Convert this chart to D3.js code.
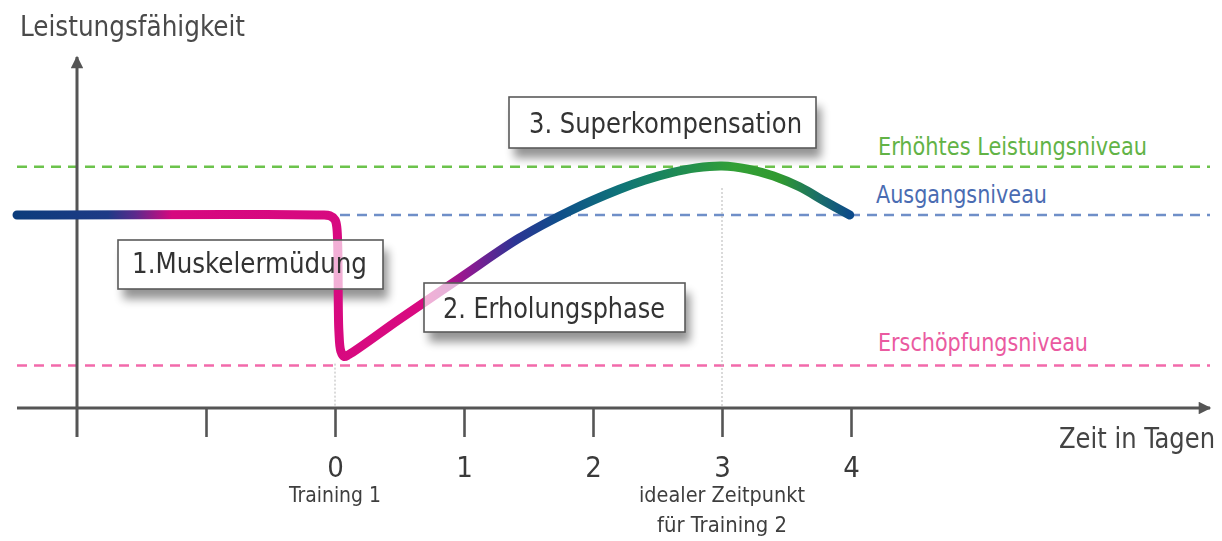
<!DOCTYPE html>
<html>
<head>
<meta charset="utf-8">
<script src="https://cdn.jsdelivr.net/npm/d3@7"></script>
<style>
  html, body { margin: 0; padding: 0; background: #fff; }
  svg { display: block; }
  text { font-family: "Liberation Sans Narrow", "Arial Narrow", "DejaVu Sans Condensed", "Roboto", sans-serif; }
</style>
</head>
<body>
<svg id="chart" width="1222" height="541"></svg>
<script>
// Performance curve (time in days, performance in % of the starting level)
const days = [-2.465, -0.12, -0.04, 0.0, 0.015, 0.03, 0.045, 0.07, 0.11, 0.5, 0.97, 1.43, 1.82, 2.2, 2.4, 2.6, 2.8, 3.0, 3.2, 3.4, 3.6, 3.8, 3.99];
const performance = [100, 100, 99.6, 97.5, 93, 40, 29.5, 26.7, 27.8, 46, 67.4, 88.1, 102.1, 113.2, 118, 121.8, 124.4, 125.4, 123.8, 120.2, 114.6, 107, 100];

// Reference levels
const levelNames = ["Erhöhtes Leistungsniveau", "Ausgangsniveau", "Erschöpfungsniveau"];
const levelValues = [125, 100, 22];
const levelColors = ["#6cc34c", "#6f8fc8", "#f26aab"];
const levelTextColors = ["#62b346", "#4a6cb2", "#ea5aa0"];

// Time axis
const tickDays = [-1, 0, 1, 2, 3, 4];
const tickLabels = ["", "0", "1", "2", "3", "4"];

// Phases
const phaseLabels = ["1.Muskelermüdung", "2. Erholungsphase", "3. Superkompensation"];

// Training markers
const markerDays = [0, 3];
const markerNotes = [["Training 1"], ["idealer Zeitpunkt", "für Training 2"]];

const W = 1222, H = 541;
const svg = d3.select("#chart");
const x = d3.scaleLinear().domain([-2, 4]).range([77, 851]);
const y = d3.scaleLinear().domain([0, 100]).range([408, 215]);
const axisColor = "#555";
const xLeft = 17, xRight = 1210;

const defs = svg.append("defs");

// Colour ramp along the curve
const grad = defs.append("linearGradient")
  .attr("id", "curveGrad").attr("gradientUnits", "userSpaceOnUse")
  .attr("x1", xLeft).attr("x2", x(4)).attr("y1", 0).attr("y2", 0);
const stops = [
  [17, "#0c3c7c"], [108, "#1e3a86"], [135, "#5a2a8c"], [172, "#d6087f"],
  [425, "#d80a80"], [470, "#8a1a92"], [515, "#2c3594"], [560, "#0f4f8a"],
  [620, "#0f7478"], [680, "#1f8c52"], [735, "#33a036"], [780, "#30992f"],
  [820, "#1a6c6a"], [851, "#0c4a8a"]
];
grad.selectAll("stop").data(stops).join("stop")
  .attr("offset", d => (d[0] - xLeft) / (x(4) - xLeft))
  .attr("stop-color", d => d[1]);

defs.append("filter").attr("id", "soft")
  .attr("x", "-20%").attr("y", "-40%").attr("width", "140%").attr("height", "180%")
  .append("feGaussianBlur").attr("stdDeviation", 5);

defs.append("marker").attr("id", "arrow")
  .attr("viewBox", "0 0 10 10").attr("refX", 9).attr("refY", 5)
  .attr("markerWidth", 5).attr("markerHeight", 4.2).attr("orient", "auto")
  .attr("markerUnits", "strokeWidth")
  .append("path").attr("d", "M0,0 L10,5 L0,10 z").attr("fill", axisColor);

// Level lines
levelValues.forEach((v, i) => {
  svg.append("line")
    .attr("x1", xLeft).attr("x2", xRight)
    .attr("y1", y(v)).attr("y2", y(v))
    .attr("stroke", levelColors[i]).attr("stroke-width", 2.6)
    .attr("stroke-dasharray", "10,7");
});
const levelLabelPos = [[878, -12, 269], [876, -12, 171], [878, -15, 210]];
levelNames.forEach((n, i) => {
  svg.append("text")
    .attr("x", levelLabelPos[i][0]).attr("y", y(levelValues[i]) + levelLabelPos[i][1])
    .attr("font-size", 24).attr("fill", levelTextColors[i])
    .attr("textLength", levelLabelPos[i][2]).attr("lengthAdjust", "spacingAndGlyphs")
    .text(n);
});

// Training markers (thin dotted guides)
const markerTop = [y(23), 188];
markerDays.forEach((d, i) => {
  svg.append("line")
    .attr("x1", x(d)).attr("x2", x(d)).attr("y1", markerTop[i]).attr("y2", y(0))
    .attr("stroke", "#b5b5b5").attr("stroke-width", 1).attr("stroke-dasharray", "2,2");
});

// Phase boxes layout
const boxes = [
  { x: 118, y: 240, w: 265, h: 49, tx: 132, ty: 273, tl: 235 },
  { x: 424, y: 283, w: 261, h: 49, tx: 443, ty: 318, tl: 222 },
  { x: 509, y: 97, w: 307, h: 51, tx: 529, ty: 133, tl: 273 }
];

// Shadows (masked so they only show outside the boxes)
const mask = defs.append("mask").attr("id", "boxMask");
mask.append("rect").attr("width", W).attr("height", H).attr("fill", "#fff");
boxes.forEach(b => mask.append("rect").attr("x", b.x).attr("y", b.y).attr("width", b.w).attr("height", b.h).attr("fill", "#000"));
const shadowG = svg.append("g").attr("mask", "url(#boxMask)");
boxes.forEach(b => {
  shadowG.append("rect")
    .attr("x", b.x + 5).attr("y", b.y + 10).attr("width", b.w).attr("height", b.h)
    .attr("fill", "#000").attr("opacity", 0.42).attr("filter", "url(#soft)");
});

// Axes
svg.append("line").attr("x1", xLeft).attr("x2", xRight).attr("y1", y(0)).attr("y2", y(0))
  .attr("stroke", axisColor).attr("stroke-width", 3).attr("marker-end", "url(#arrow)");
svg.append("line").attr("x1", x(-2)).attr("x2", x(-2)).attr("y1", 437).attr("y2", 57)
  .attr("stroke", axisColor).attr("stroke-width", 3).attr("marker-end", "url(#arrow)");

const xAxis = d3.axisBottom(x).tickValues(tickDays).tickSize(29).tickPadding(18)
  .tickFormat((d, i) => tickLabels[i]);
const gx = svg.append("g").attr("transform", `translate(0,${y(0)})`).call(xAxis);
gx.select(".domain").remove();
gx.selectAll(".tick line").attr("stroke", axisColor).attr("stroke-width", 2.6);
gx.selectAll(".tick text").attr("fill", "#3a3a3a").attr("font-size", 29)
  .attr("font-family", null).attr("dy", null).attr("y", 69);

// Marker notes below the axis
const noteWidths = [[92], [166, 130]];
markerDays.forEach((d, i) => {
  markerNotes[i].forEach((t, j) => {
    svg.append("text").attr("x", x(d)).attr("y", 502 + j * 30)
      .attr("text-anchor", "middle").attr("font-size", 21).attr("fill", "#3e3e3e")
      .attr("textLength", noteWidths[i][j]).attr("lengthAdjust", "spacingAndGlyphs")
      .text(t);
  });
});

// Axis titles
svg.append("text").attr("x", 20).attr("y", 36).attr("font-size", 28).attr("fill", "#4a4a4a")
  .attr("textLength", 225).attr("lengthAdjust", "spacingAndGlyphs").text("Leistungsfähigkeit");
svg.append("text").attr("x", 1059).attr("y", 448).attr("font-size", 28).attr("fill", "#444")
  .attr("textLength", 156).attr("lengthAdjust", "spacingAndGlyphs").text("Zeit in Tagen");

// Performance curve
const pts = days.map((d, i) => [d, performance[i]]);
const line = d3.line().x(d => x(d[0])).y(d => y(d[1])).curve(d3.curveCatmullRom.alpha(0.5));
svg.append("path").attr("d", line(pts)).attr("fill", "none")
  .attr("stroke", "url(#curveGrad)").attr("stroke-width", 9)
  .attr("stroke-linecap", "round").attr("stroke-linejoin", "round");

// Phase boxes with labels
boxes.forEach((b, i) => {
  svg.append("rect").attr("x", b.x).attr("y", b.y).attr("width", b.w).attr("height", b.h)
    .attr("fill", "#fff").attr("fill-opacity", 0.68)
    .attr("stroke", "#5a5a5a").attr("stroke-width", 1.6);
  svg.append("text").attr("x", b.tx).attr("y", b.ty).attr("font-size", 29).attr("fill", "#333")
    .attr("textLength", b.tl).attr("lengthAdjust", "spacingAndGlyphs").text(phaseLabels[i]);
});
</script>
</body>
</html>
